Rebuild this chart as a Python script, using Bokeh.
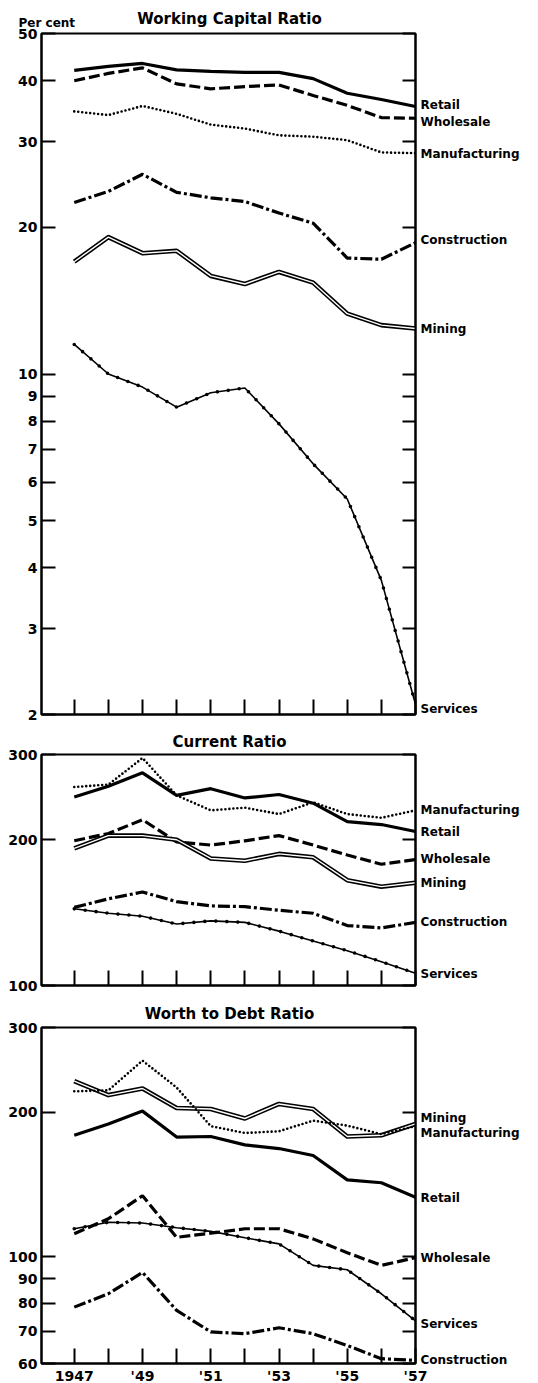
from bokeh.plotting import figure
from bokeh.layouts import column
from bokeh.models import Range1d, FixedTicker, LogAxis, NumeralTickFormatter, Label
from bokeh.embed import file_html
from bokeh.resources import INLINE

# ---------------- data ----------------
years = [1947, 1948, 1949, 1950, 1951, 1952, 1953, 1954, 1955, 1956, 1957]
x_tick_labels = ["1947", "", "'49", "", "'51", "", "'53", "", "'55", "", "'57"]

# Working Capital Ratio (per cent)
wc_retail = [42.0, 42.8, 43.4, 42.1, 41.8, 41.6, 41.6, 40.4, 37.7, 36.6, 35.4]
wc_wholesale = [40.0, 41.4, 42.5, 39.4, 38.5, 38.9, 39.2, 37.3, 35.6, 33.6, 33.5]
wc_manufacturing = [34.6, 34.0, 35.5, 34.2, 32.5, 31.9, 30.9, 30.7, 30.2, 28.5, 28.4]
wc_construction = [22.5, 23.7, 25.7, 23.6, 23.0, 22.6, 21.4, 20.4, 17.3, 17.2, 18.6]
wc_mining = [17.0, 19.1, 17.7, 17.9, 15.9, 15.3, 16.2, 15.4, 13.3, 12.6, 12.4]
wc_services = [11.5, 10.0, 9.4, 8.55, 9.15, 9.36, 7.9, 6.54, 5.54, 3.77, 2.1]
wc_ticks = [2, 3, 4, 5, 6, 7, 8, 9, 10, 20, 30, 40, 50]

# Current Ratio (per cent)
cr_manufacturing = [257, 260, 295, 247, 230, 233, 226, 239, 226, 222, 230]
cr_retail = [245, 258, 275, 247, 255, 244, 248, 238, 218, 215, 208]
cr_wholesale = [199, 206, 220, 198, 195, 199, 204, 195, 186, 178, 182]
cr_mining = [192, 204, 204, 200, 183, 181, 187, 184, 165, 160, 163]
cr_construction = [145, 151, 156, 149, 146, 145.5, 143, 141, 133, 131.5, 135]
cr_services = [144, 141, 139, 134, 136, 135, 129.5, 123.6, 118, 112, 106]
cr_ticks = [100, 200, 300]

# Worth to Debt Ratio (per cent)
wd_mining = [232, 217, 224, 204, 203, 194, 208, 203, 178, 179, 189]
wd_manufacturing = [221, 222, 256, 225, 187, 181, 182.5, 192, 187.5, 180, 187]
wd_retail = [179, 189, 201, 177.5, 178, 171, 168, 162.5, 144.6, 142.6, 133]
wd_wholesale = [111.7, 120, 134, 109.8, 112, 114.4, 114.4, 109, 102, 96, 99.6]
wd_services = [114.4, 118, 117.6, 115, 113, 109.6, 106.4, 96, 94, 83.8, 73.6]
wd_construction = [78.6, 83.8, 92.8, 77.4, 69.8, 69.2, 71.2, 69.2, 65.4, 61.4, 60.9]
wd_ticks = [60, 70, 80, 90, 100, 200, 300]

# ---------------- styles ----------------
FONT = "DejaVu Sans"
STYLES = {
    "Retail": [dict(line_width=3.2)],
    "Wholesale": [dict(line_width=3.2, line_dash="11 4")],
    "Manufacturing": [dict(line_width=2.6, line_dash="0 4", line_cap="round")],
    "Construction": [dict(line_width=3.2, line_dash="12 3 3 3")],
    "Mining": [dict(line_width=4.6, line_join="round"),
               dict(line_width=1.4, line_color="white", line_join="round")],
    "Services": [dict(line_width=1.6),
                 dict(line_width=3.6, line_dash="0 11", line_cap="round")],
}
X_START, X_END = 1946.04, 1957
W = 538
FRAME_W = 374
B_LEFT = 41
B_RIGHT = W - B_LEFT - FRAME_W


def silent(axis):
    # ticks only: labels are not painted and take no room
    axis.major_label_text_color = None
    axis.major_label_text_font_size = "1px"
    axis.major_label_standoff = 0


def make_panel(title, title_lift, series, y_lo, y_hi, ticks, nudges, frame_h, b_top, b_bottom,
               show_years=False, per_cent=False):
    p = figure(frame_width=FRAME_W, frame_height=frame_h, y_axis_type="log",
               x_range=Range1d(X_START, X_END), y_range=Range1d(y_lo, y_hi),
               toolbar_location=None, output_backend="svg",
               min_border_left=B_LEFT, min_border_right=B_RIGHT,
               min_border_top=b_top, min_border_bottom=b_bottom)
    p.xgrid.visible = False
    p.ygrid.visible = False
    p.outline_line_color = "black"
    p.outline_line_width = 2

    # left axis
    ya = p.yaxis[0]
    ya.ticker = FixedTicker(ticks=ticks)
    ya.formatter = NumeralTickFormatter(format="0")
    ya.major_tick_in = 14
    ya.major_tick_out = 0
    ya.major_tick_line_width = 2
    ya.minor_tick_line_color = None
    ya.axis_line_width = 2
    ya.major_label_standoff = 4
    ya.major_label_text_font = FONT
    ya.major_label_text_font_style = "bold"
    ya.major_label_text_font_size = "14px"
    ya.major_label_text_color = "black"

    # right axis (ticks only)
    ra = LogAxis(ticker=FixedTicker(ticks=ticks), major_tick_in=13, major_tick_out=0,
                 major_tick_line_width=2, minor_tick_line_color=None, axis_line_width=2)
    silent(ra)
    p.add_layout(ra, "right")

    # right-hand series names, placed at each series' last value
    span = (y_hi / y_lo)
    pos = [vals[-1] * span ** (-nudges.get(name, 0) / frame_h) for name, vals in series]
    la = LogAxis(ticker=FixedTicker(ticks=pos),
                 major_label_overrides={v: name for v, (name, _) in zip(pos, series)},
                 major_tick_in=0, major_tick_out=0, minor_tick_line_color=None,
                 axis_line_color=None, major_tick_line_color=None,
                 major_label_standoff=5, major_label_text_font=FONT,
                 major_label_text_font_style="bold", major_label_text_font_size="12px",
                 major_label_text_color="black")
    p.add_layout(la, "right")

    # bottom axis
    xa = p.xaxis[0]
    xa.ticker = FixedTicker(ticks=years)
    xa.major_tick_in = 15
    xa.major_tick_out = 0
    xa.major_tick_line_width = 2
    xa.minor_tick_line_color = None
    xa.axis_line_width = 2
    if show_years:
        xa.major_label_overrides = {y: s for y, s in zip(years, x_tick_labels)}
        xa.major_label_text_font = FONT
        xa.major_label_text_font_style = "bold"
        xa.major_label_text_font_size = "14px"
        xa.major_label_text_color = "black"
        xa.major_label_standoff = 4
    else:
        silent(xa)

    for name, vals in series:
        for st in STYLES[name]:
            kw = dict(line_color="black")
            kw.update(st)
            p.line(years, vals, **kw)

    # title and unit note live in the top border panel (so they are not clipped)
    p.add_layout(Label(x=(X_START + X_END) / 2, y=y_hi, x_offset=1, y_offset=title_lift,
                       text=title, text_align="center", text_baseline="middle",
                       text_font=FONT, text_font_style="bold", text_font_size="15px",
                       text_color="black"), "above")
    if per_cent:
        p.add_layout(Label(x=X_START, y=y_hi, x_offset=-23, y_offset=11, text="Per cent",
                           text_align="left", text_baseline="middle", text_font=FONT,
                           text_font_style="bold", text_font_size="12px",
                           text_color="black"), "above")
    return p


p1 = make_panel("Working Capital Ratio", 15,
                [("Retail", wc_retail), ("Wholesale", wc_wholesale),
                 ("Manufacturing", wc_manufacturing), ("Construction", wc_construction),
                 ("Mining", wc_mining), ("Services", wc_services)],
                2, 50, wc_ticks,
                {"Retail": -2, "Wholesale": 4, "Manufacturing": 1, "Construction": -3,
                 "Mining": 1, "Services": 5},
                681, 33, 14, per_cent=True)

p2 = make_panel("Current Ratio", 13,
                [("Manufacturing", cr_manufacturing), ("Retail", cr_retail),
                 ("Wholesale", cr_wholesale), ("Mining", cr_mining),
                 ("Construction", cr_construction), ("Services", cr_services)],
                100, 300, cr_ticks,
                {"Wholesale": -1, "Services": 1},
                231, 26, 14)

p3 = make_panel("Worth to Debt Ratio", 14,
                [("Mining", wd_mining), ("Manufacturing", wd_manufacturing),
                 ("Retail", wd_retail), ("Wholesale", wd_wholesale),
                 ("Services", wd_services), ("Construction", wd_construction)],
                60, 300, wd_ticks,
                {"Mining": -6, "Manufacturing": 7, "Retail": 1, "Services": 3},
                336, 28, 20, show_years=True)

layout = column(p1, p2, p3)
open("out.html", "w").write(file_html(layout, INLINE))
